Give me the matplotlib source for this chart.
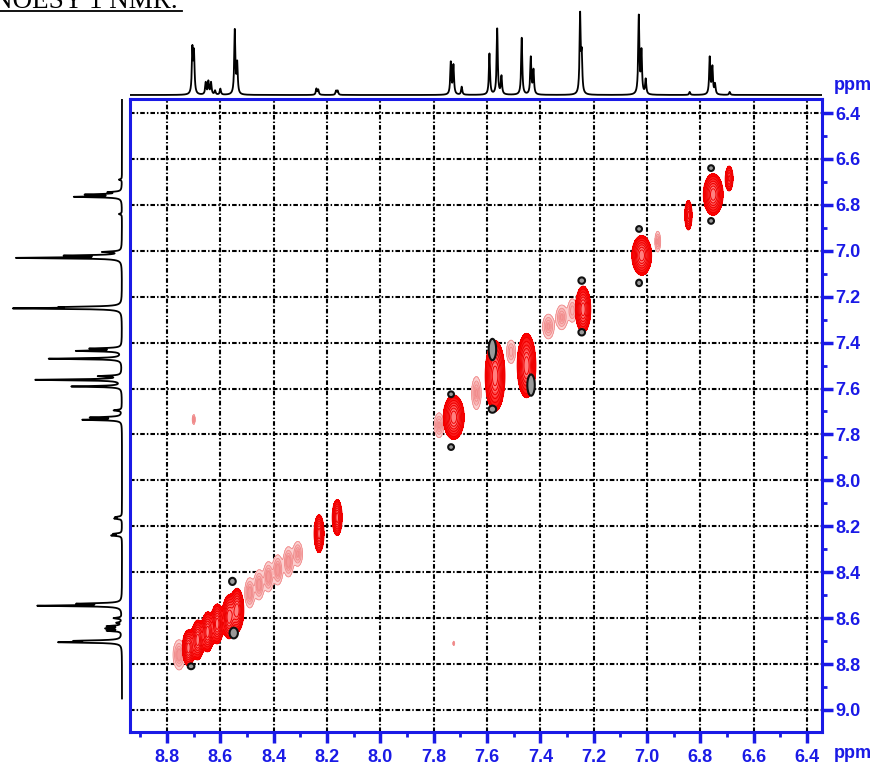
import numpy as np
import matplotlib
matplotlib.use("Agg")
import matplotlib.pyplot as plt
from matplotlib.lines import Line2D
from matplotlib.ticker import MultipleLocator, FormatStrFormatter
from matplotlib import font_manager

# ---------------- data ----------------
# 1D projection peaks (ppm) and heights (top trace / left trace, in px)
proj_ppm = [8.705, 8.699, 8.655, 8.645, 8.635, 8.620, 8.600, 8.546, 8.537,
            8.240, 8.233, 8.166, 8.160, 7.736, 7.726, 7.695, 7.591, 7.562,
            7.546, 7.470, 7.436, 7.426, 7.251, 7.245, 7.031, 7.021, 7.005,
            6.840, 6.765, 6.755, 6.745, 6.690]
top_heights = [44, 40, 12, 13, 12, 4, 6, 64, 30,
               6, 5, 4, 4, 32, 29, 8, 41, 66,
               18, 57, 37, 24, 78, 36, 78, 42, 15,
               3, 37, 27, 10, 3]
left_heights = [58, 40, 14, 15, 14, 5, 8, 82, 40,
                10, 8, 7, 6, 38, 30, 8, 50, 86,
                22, 73, 44, 30, 102, 48, 103, 52, 18,
                3, 46, 34, 12, 3]

# 2D positive (red) peaks: F2 ppm, F1 ppm, widths, amplitude
red_x = [8.720, 8.685, 8.648, 8.612, 8.568, 8.537, 8.230, 8.162,
         7.725, 7.570, 7.452, 7.240, 7.020, 6.845, 6.752, 6.692]
red_y = [8.730, 8.695, 8.660, 8.625, 8.595, 8.565, 8.232, 8.162,
         7.725, 7.545, 7.500, 7.255, 7.020, 6.845, 6.755, 6.685]
red_sx = [0.011, 0.011, 0.011, 0.011, 0.012, 0.012, 0.009, 0.009,
          0.019, 0.018, 0.017, 0.014, 0.018, 0.007, 0.018, 0.008]
red_sy = [0.038, 0.042, 0.042, 0.042, 0.046, 0.046, 0.040, 0.038,
          0.047, 0.075, 0.068, 0.049, 0.042, 0.033, 0.044, 0.030]
red_amp = [1, 1, 1, 1, 1, 1, 1, 1, 1, 1, 1, 1, 1, 0.8, 1, 0.6]

# 2D weak (pink) peaks
pink_x = [8.755, 8.490, 8.455, 8.420, 8.385, 8.345, 8.310, 7.780, 7.640,
          7.510, 7.370, 7.320, 7.280, 6.960, 8.700, 7.725]
pink_y = [8.760, 8.490, 8.455, 8.420, 8.390, 8.355, 8.320, 7.760, 7.620,
          7.440, 7.330, 7.290, 7.260, 6.960, 7.735, 8.710]
pink_sx = [0.012, 0.010, 0.010, 0.010, 0.010, 0.010, 0.010, 0.010, 0.010,
           0.010, 0.012, 0.012, 0.010, 0.006, 0.003, 0.002]
pink_sy = [0.035, 0.035, 0.035, 0.035, 0.035, 0.035, 0.030, 0.030, 0.040,
           0.030, 0.030, 0.030, 0.030, 0.025, 0.012, 0.006]
pink_amp = [0.7, 0.7, 0.7, 0.7, 0.7, 0.7, 0.6, 0.6, 0.6,
            0.5, 0.6, 0.6, 0.5, 0.6, 0.6, 0.4]

# 2D negative (black) peaks
neg_x = [8.710, 8.555, 8.550, 7.735, 7.735, 7.580, 7.580, 7.435,
         7.245, 7.245, 7.030, 7.030, 6.760, 6.760]
neg_y = [8.810, 8.440, 8.665, 7.625, 7.855, 7.430, 7.690, 7.585,
         7.130, 7.355, 6.905, 7.140, 6.640, 6.870]
neg_sx = [0.008, 0.008, 0.010, 0.007, 0.007, 0.009, 0.009, 0.009,
          0.008, 0.008, 0.007, 0.007, 0.007, 0.007]
neg_sy = [0.008, 0.010, 0.015, 0.008, 0.008, 0.030, 0.010, 0.030,
          0.009, 0.009, 0.008, 0.009, 0.008, 0.008]

x_major = 0.2
x_minor = 0.1

# ---------------- figure ----------------
W, H = 875, 769
BLUE = "#1a1ae6"
avail = {f.name for f in font_manager.fontManager.ttflist}
tick_family = "Liberation Sans Narrow" if "Liberation Sans Narrow" in avail else "Liberation Sans"
tick_size = 15 if tick_family == "Liberation Sans Narrow" else 13

fig = plt.figure(figsize=(W / 100, H / 100), dpi=100)


def ax_px(l, t, r, b):
    return fig.add_axes([l / W, 1 - b / H, (r - l) / W, (b - t) / H])


XLIM = (8.939, 6.344)
YLIM = (9.096, 6.339)

main = ax_px(130, 99, 822, 732)
main.set_xlim(*XLIM)
main.set_ylim(*YLIM)
main.set_axisbelow(True)

# 2D fields
xs = np.linspace(6.33, 8.95, 1000)
ys = np.linspace(6.33, 9.11, 1050)
X, Y = np.meshgrid(xs, ys)


def field(cx, cy, sx, sy, amp):
    Z = np.zeros_like(X)
    for a, b, c, d, e in zip(cx, cy, sx, sy, amp):
        Z += e * np.exp(-((X - a) ** 2 / (2 * c ** 2) + (Y - b) ** 2 / (2 * d ** 2)))
    return Z


Zp = field(pink_x, pink_y, pink_sx, pink_sy, pink_amp)
main.contourf(X, Y, Zp, levels=[0.12, 0.3, 0.5, 10],
              colors=["#fbd0d0", "#f8b4b4", "#f59a9a"], zorder=2)
main.contour(X, Y, Zp, levels=[0.12, 0.25, 0.4, 0.55], colors="#f08a8a",
             linewidths=0.6, zorder=2)

Zr = field(red_x, red_y, red_sx, red_sy, red_amp)
main.contourf(X, Y, Zr, levels=[0.12, 0.22, 0.35, 0.5, 0.65, 0.8, 10],
              colors=["#ff0000", "#ff1a1a", "#ff3030", "#ff4d4d", "#ff6666", "#ff8080"],
              zorder=3)
main.contour(X, Y, Zr, levels=[0.12, 0.2, 0.3, 0.42, 0.55, 0.7, 0.85],
             colors="#ee0000", linewidths=0.7, zorder=3)

Zn = field(neg_x, neg_y, neg_sx, neg_sy, [1] * len(neg_x))
main.contourf(X, Y, Zn, levels=[0.3, 10], colors=["#9a9a9a"], zorder=4)
main.contour(X, Y, Zn, levels=[0.3], colors="#111111", linewidths=1.5, zorder=4)

# grid, ticks, spines
main.xaxis.set_major_locator(MultipleLocator(x_major))
main.xaxis.set_minor_locator(MultipleLocator(x_minor))
main.yaxis.set_major_locator(MultipleLocator(x_major))
main.yaxis.set_minor_locator(MultipleLocator(x_minor))
main.xaxis.set_major_formatter(FormatStrFormatter("%.1f"))
main.yaxis.set_major_formatter(FormatStrFormatter("%.1f"))
main.yaxis.tick_right()
main.grid(which="major", color="black", linewidth=1.5,
          linestyle=(0, (2.2, 1.0, 0.7, 1.0)))
for s in main.spines.values():
    s.set_color(BLUE)
    s.set_linewidth(2.2)
main.tick_params(axis="x", which="major", direction="out", length=8, width=2.5,
                 color=BLUE, labelcolor=BLUE, pad=4)
main.tick_params(axis="y", which="major", direction="out", length=8, width=2.5,
                 color=BLUE, labelcolor=BLUE, pad=1.5)
main.tick_params(which="minor", direction="out", length=3.5, width=2, color=BLUE)
for lab in main.get_xticklabels() + main.get_yticklabels():
    lab.set_fontfamily(tick_family)
    lab.set_fontweight("bold")
    lab.set_fontsize(tick_size)

# 1D projections
p1d = np.linspace(6.33, 8.95, 9000)
w = 0.0025


def spectrum(heights):
    s = np.zeros_like(p1d)
    for p, h in zip(proj_ppm, heights):
        s += h * w ** 2 / ((p1d - p) ** 2 + w ** 2)
    return s


top = ax_px(130, 0, 822, 97)
top.plot(p1d, spectrum(top_heights), color="black", linewidth=1.3)
top.set_xlim(*XLIM)
top.set_ylim(-2, 95)
top.axis("off")

left = ax_px(0, 99, 125, 732)
left.plot(spectrum(left_heights), p1d, color="black", linewidth=1.3)
left.set_ylim(*YLIM)
left.set_xlim(122, -3)
left.axis("off")

# texts
fig.text(-7 / W, 1 - 8 / H, "NOESY 1 NMR.", family="Liberation Serif",
         fontsize=19.5, ha="left", va="baseline", color="black")
fig.add_artist(Line2D([0, 182 / W], [1 - 11 / H, 1 - 11 / H], color="black", linewidth=1.3))
fig.text(834 / W, 1 - 754 / H, "ppm", family=tick_family, fontweight="bold",
         fontsize=tick_size, color=BLUE, ha="left", va="center")
fig.text(834 / W, 1 - 86 / H, "ppm", family=tick_family, fontweight="bold",
         fontsize=tick_size, color=BLUE, ha="left", va="center")

fig.savefig("out.png", dpi=100)
